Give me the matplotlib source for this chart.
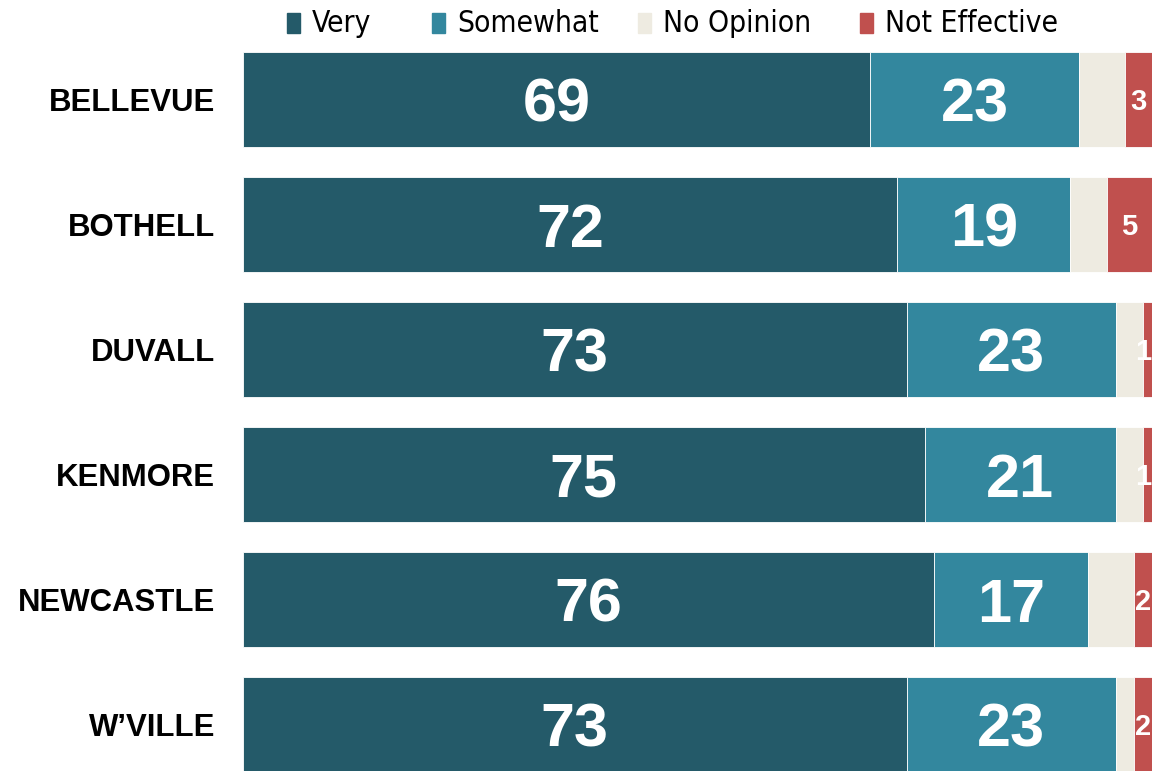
import matplotlib
matplotlib.use("Agg")
import matplotlib.pyplot as plt
from matplotlib.patches import Rectangle
from matplotlib import font_manager

cities = ["BELLEVUE", "BOTHELL", "DUVALL", "KENMORE", "NEWCASTLE", "W\u2019VILLE"]
very = [69, 72, 73, 75, 76, 73]
somewhat = [23, 19, 23, 21, 17, 23]
no_opinion = [5, 4, 3, 3, 5, 2]
not_effective = [3, 5, 1, 1, 2, 2]

series_names = ["Very", "Somewhat", "No Opinion", "Not Effective"]
series_values = [very, somewhat, no_opinion, not_effective]
colors = ["#245a69", "#33879e", "#eeebe1", "#c0504e"]
show_labels = [True, True, False, True]

# pick a condensed sans for the legend if one is available
legend_font = dict(family="Liberation Sans", fontsize=21.5)
for f in font_manager.fontManager.ttflist:
    nm = f.name.lower()
    if ("narrow" in nm or "condensed" in nm or
            str(f.stretch) in ("condensed", "semi-condensed", "extra-condensed")) \
            and f.weight in (400, "normal", "regular", "book"):
        legend_font = dict(family=f.name, fontsize=21.5, fontstretch=f.stretch)
        break

W, H = 1152, 771
PX = 100 / (W - 243)          # data units per pixel along x
PY = 1 / 125                  # data units per pixel along y
fig = plt.figure(figsize=(W / 100, H / 100), dpi=100)
ax = fig.add_axes([243 / W, 0, 1 - 243 / W, 1])

bar_h = 0.76
ypos = list(range(len(cities)))
left = [0] * len(cities)
for name, vals, col, lab in zip(series_names, series_values, colors, show_labels):
    ax.barh(ypos, vals, left=left, height=bar_h, color=col,
            edgecolor="white", linewidth=0.6)
    if lab:
        for y, l, v in zip(ypos, left, vals):
            if v >= 10:
                size, half_cap = 44, 22
            else:
                size, half_cap = 21, 10.5
            x, ha = l + v / 2, "center"
            if v < 2:
                x, ha = 100 - 1 * PX, "right"
            ax.text(x, y + half_cap * PY, str(v), ha=ha, va="baseline",
                    color="white", fontsize=size, fontweight="bold",
                    family="Liberation Sans", clip_on=False)
    left = [a + b for a, b in zip(left, vals)]

ax.set_xlim(0, 100)
ax.set_ylim((H - 100) * PY, -100 * PY)
ax.axis("off")

# category labels
for y, c in zip(ypos, cities):
    ax.text(-(243 - 215) * PX, y + 11 * PY, c, ha="right", va="baseline",
            fontsize=22.4, fontweight="bold", family="Liberation Sans",
            color="black", clip_on=False)

# legend along the top
legend_x = [287, 432, 638, 860]
for x, name, col in zip(legend_x, series_names, colors):
    fig.patches.append(Rectangle((x / W, 1 - 33 / H), 13 / W, 20 / H,
                                 transform=fig.transFigure, color=col))
    fig.text((x + 25) / W, 1 - 23 / H, name, ha="left", va="center",
             color="black", **legend_font)

fig.savefig("out.png", dpi=100)
